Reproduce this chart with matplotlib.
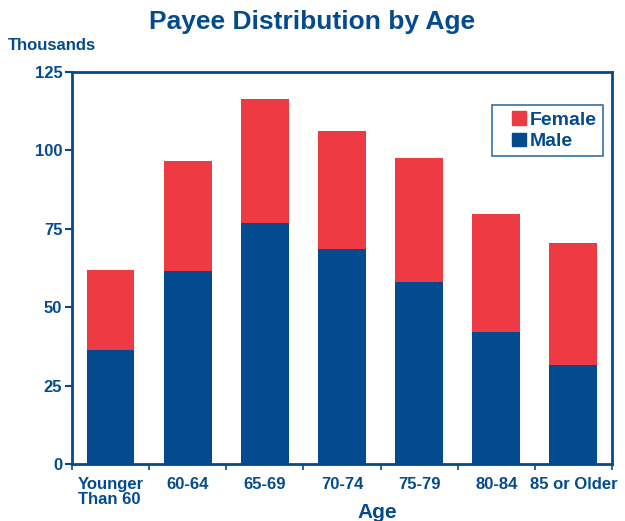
import matplotlib
matplotlib.use("Agg")
import matplotlib.pyplot as plt
import numpy as np
from matplotlib.patches import Patch, Rectangle
from matplotlib.legend_handler import HandlerPatch

categories = ["Younger\nThan 60", "60-64", "65-69", "70-74", "75-79", "80-84", "85 or Older"]
male = [36.4, 61.5, 76.8, 68.6, 58.0, 42.1, 31.6]
total = [61.9, 96.6, 116.4, 106.2, 97.6, 79.7, 70.5]
female = [t - m for t, m in zip(total, male)]
yticks = [0, 25, 50, 75, 100, 125]

BLUE = "#034b8e"
RED = "#ee3b43"
plt.rcParams['font.family'] = ['Liberation Sans', 'DejaVu Sans']

fig = plt.figure(figsize=(6.25, 5.21), dpi=100)
ax = fig.add_axes([0.1152, 0.1094, 0.8638, 0.7524])
x = np.arange(len(categories))
ax.bar(x, male, width=0.62, color=BLUE, label="Male")
ax.bar(x, female, bottom=male, width=0.62, color=RED, label="Female")

ax.set_xlim(-0.5, len(categories) - 0.5)
ax.set_ylim(0, 125)
ax.set_yticks(yticks)
ax.set_yticklabels([str(v) for v in yticks], fontsize=12, fontweight='bold', color=BLUE)
ax.set_xticks(x)
ax.set_xticklabels(categories, fontsize=12, fontweight='bold', color=BLUE, linespacing=1.05)
ax.set_xticks(np.arange(-0.5, len(categories)), minor=True)
ax.tick_params(axis='x', which='major', length=0, pad=9)
ax.tick_params(axis='x', which='minor', length=4, color=BLUE, width=1.2)
ax.tick_params(axis='y', length=5, color=BLUE, width=1.5, pad=2)
for lbl in ax.get_xticklabels():
    if "Younger" in lbl.get_text():
        lbl.set_horizontalalignment('center')
        lbl.set_multialignment('left')

for s in ax.spines.values():
    s.set_color(BLUE)
    s.set_linewidth(2)

fig.text(0.5, 0.957, "Payee Distribution by Age", ha='center', va='center',
         fontsize=19, fontweight='bold', color=BLUE)
fig.text(0.013, 0.913, "Thousands", ha='left', va='center', fontsize=12,
         fontweight='bold', color=BLUE)
fig.text(0.603, 0.016, "Age", ha='center', va='center', fontsize=15,
         fontweight='bold', color=BLUE)


def square_patch(legend, orig_handle, xdescent, ydescent, width, height, fontsize):
    side = height * 0.95
    return Rectangle((width - side - xdescent, -ydescent + (height - side) / 2), side, side)


handles = [Patch(color=RED, label="Female"), Patch(color=BLUE, label="Male")]
leg = ax.legend(handles=handles, loc='upper right', bbox_to_anchor=(0.983, 0.916),
                prop={'size': 14, 'weight': 'bold'}, frameon=True, fancybox=False,
                handlelength=1.45, handleheight=0.75, handletextpad=0.2,
                labelspacing=0.2, borderpad=0.3, borderaxespad=0,
                handler_map={Patch: HandlerPatch(patch_func=square_patch)})
leg.get_frame().set_edgecolor(BLUE)
leg.get_frame().set_linewidth(1.2)
for t in leg.get_texts():
    t.set_color(BLUE)

fig.savefig("out.png", dpi=100)
